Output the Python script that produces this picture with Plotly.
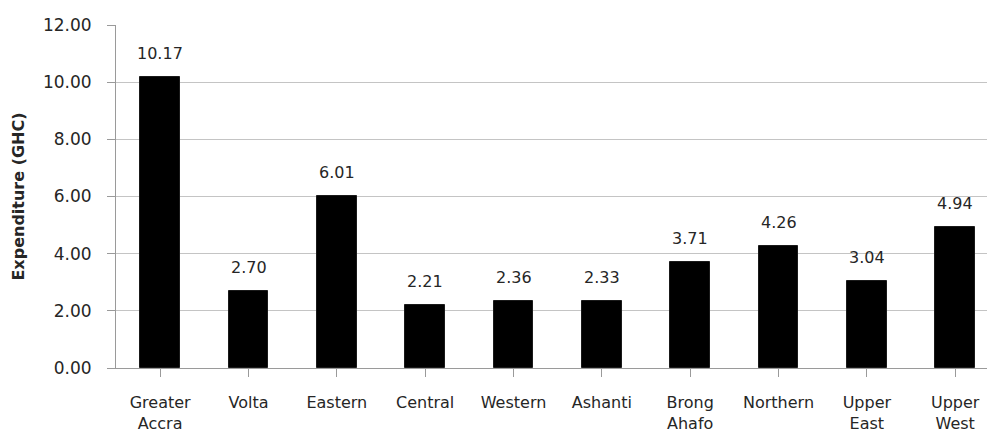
import plotly.graph_objects as go

# Mean expenditure by region (GHC)
regions = ["Greater<br>Accra", "Volta", "Eastern", "Central", "Western", "Ashanti",
           "Brong<br>Ahafo", "Northern", "Upper<br>East", "Upper<br>West"]
expenditure = [10.17, 2.70, 6.01, 2.21, 2.36, 2.33, 3.71, 4.26, 3.04, 4.94]
y_ticks = [0, 2, 4, 6, 8, 10, 12]

FONT = "DejaVu Sans"
TEXT = "#262626"

fig = go.Figure()
fig.add_trace(go.Bar(
    x=list(range(len(regions))),
    y=expenditure,
    width=0.45,
    marker=dict(color="#000000", line=dict(color="#1a1a1a", width=1)),
    hoverinfo="skip",
))

for i, v in enumerate(expenditure):
    fig.add_annotation(
        x=i, y=v, text=f"{v:.2f}", showarrow=False,
        yanchor="bottom", yshift=12,
        font=dict(family=FONT, size=16, color=TEXT),
    )

fig.update_layout(
    width=987, height=438,
    margin=dict(l=116, r=0, t=25, b=70),
    plot_bgcolor="white", paper_bgcolor="white",
    showlegend=False,
    font=dict(family=FONT, size=16, color=TEXT),
    bargap=0,
)
fig.update_xaxes(
    tickmode="array",
    tickvals=list(range(len(regions))),
    ticktext=regions,
    range=[-0.5, 9.36],
    tickson="boundaries",
    ticks="outside", ticklen=8, tickcolor="#9a9a9a",
    showline=True, linecolor="#9a9a9a", linewidth=1,
    showgrid=False, zeroline=False,
    ticklabelstandoff=12,
    tickfont=dict(family=FONT, size=16, color=TEXT),
)
fig.update_yaxes(
    range=[0, 12],
    tickvals=y_ticks,
    tickformat=".2f",
    ticks="outside", ticklen=8, tickcolor="#9a9a9a",
    showline=True, linecolor="#9a9a9a", linewidth=1,
    showgrid=True, gridcolor="#c4c4c4", gridwidth=1,
    zeroline=False,
    ticklabelstandoff=12,
    tickfont=dict(family=FONT, size=17, color=TEXT),
    title=dict(text="<b>Expenditure (GHC)</b>", standoff=14,
               font=dict(family=FONT, size=16, color=TEXT)),
)

fig.write_html("out.html")
